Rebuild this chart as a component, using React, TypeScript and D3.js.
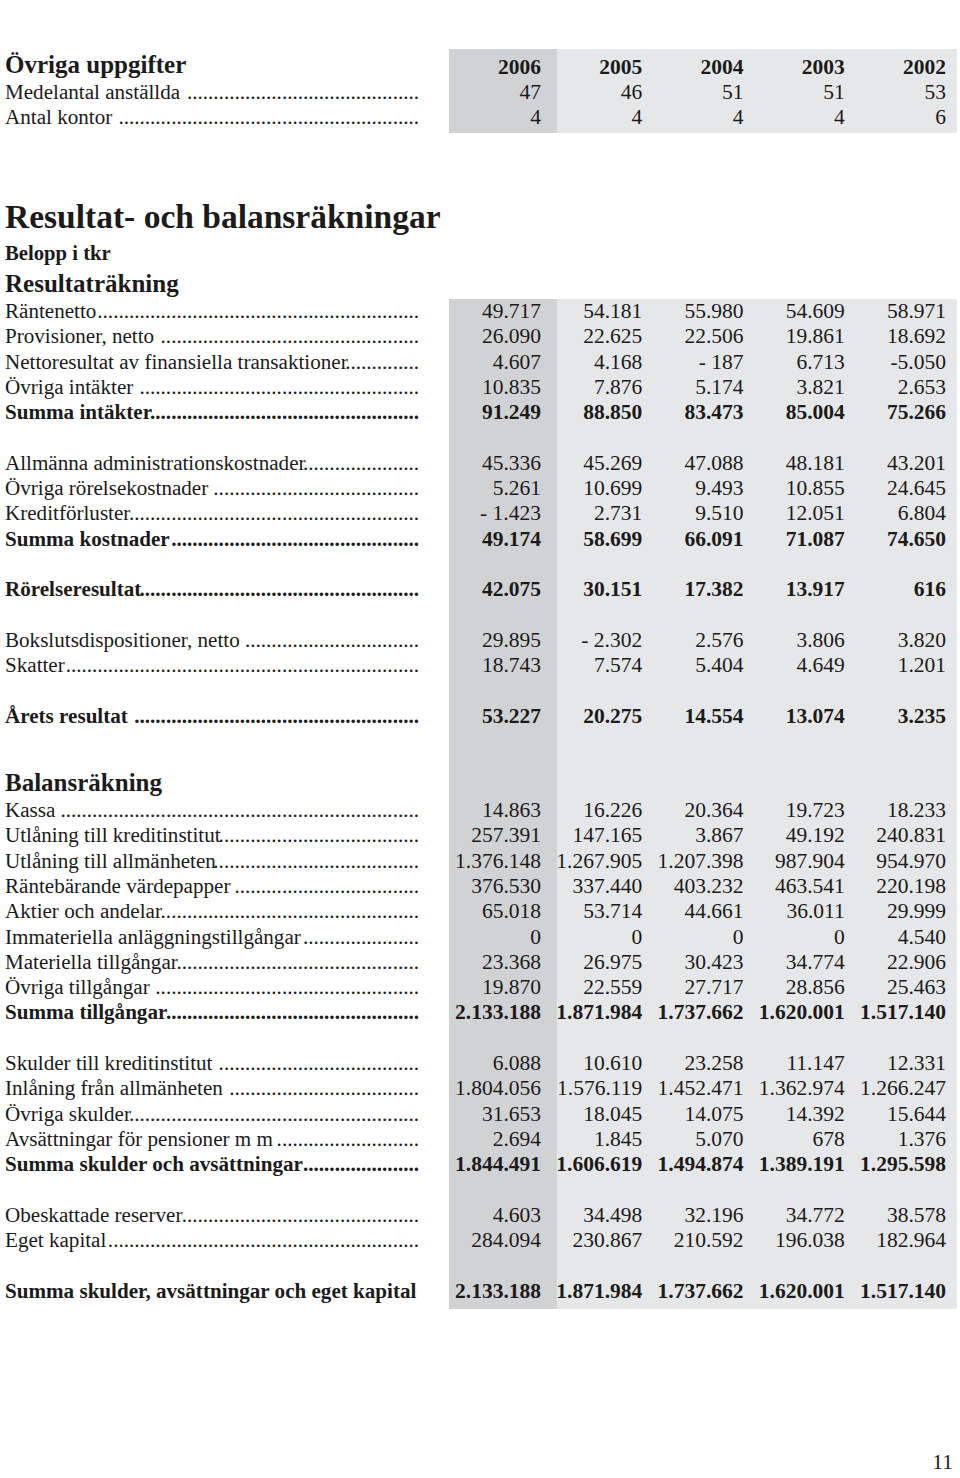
import React from 'react';
import * as d3 from 'd3';

// ---------- DATA ----------
const years = ['2006', '2005', '2004', '2003', '2002'];

const otherLabels = ['Medelantal anställda ', 'Antal kontor '];
const otherValues = [
  ['47', '46', '51', '51', '53'],
  ['4', '4', '4', '4', '6'],
];

type Row = { label: string; values: string[]; bold?: boolean; noDots?: boolean } | null;

const incomeRows: Row[] = [
  { label: 'Räntenetto', values: ['49.717', '54.181', '55.980', '54.609', '58.971'] },
  { label: 'Provisioner, netto ', values: ['26.090', '22.625', '22.506', '19.861', '18.692'] },
  { label: 'Nettoresultat av finansiella transaktioner', values: ['4.607', '4.168', '- 187', '6.713', '-5.050'] },
  { label: 'Övriga intäkter ', values: ['10.835', '7.876', '5.174', '3.821', '2.653'] },
  { label: 'Summa intäkter', values: ['91.249', '88.850', '83.473', '85.004', '75.266'], bold: true },
  null,
  { label: 'Allmänna administrationskostnader', values: ['45.336', '45.269', '47.088', '48.181', '43.201'] },
  { label: 'Övriga rörelsekostnader ', values: ['5.261', '10.699', '9.493', '10.855', '24.645'] },
  { label: 'Kreditförluster', values: ['- 1.423', '2.731', '9.510', '12.051', '6.804'] },
  { label: 'Summa kostnader', values: ['49.174', '58.699', '66.091', '71.087', '74.650'], bold: true },
  null,
  { label: 'Rörelseresultat', values: ['42.075', '30.151', '17.382', '13.917', '616'], bold: true },
  null,
  { label: 'Bokslutsdispositioner, netto ', values: ['29.895', '- 2.302', '2.576', '3.806', '3.820'] },
  { label: 'Skatter', values: ['18.743', '7.574', '5.404', '4.649', '1.201'] },
  null,
  { label: 'Årets resultat ', values: ['53.227', '20.275', '14.554', '13.074', '3.235'], bold: true },
];

const balanceRows: Row[] = [
  { label: 'Kassa ', values: ['14.863', '16.226', '20.364', '19.723', '18.233'] },
  { label: 'Utlåning till kreditinstitut', values: ['257.391', '147.165', '3.867', '49.192', '240.831'] },
  { label: 'Utlåning till allmänheten', values: ['1.376.148', '1.267.905', '1.207.398', '987.904', '954.970'] },
  { label: 'Räntebärande värdepapper ', values: ['376.530', '337.440', '403.232', '463.541', '220.198'] },
  { label: 'Aktier och andelar', values: ['65.018', '53.714', '44.661', '36.011', '29.999'] },
  { label: 'Immateriella anläggningstillgångar', values: ['0', '0', '0', '0', '4.540'] },
  { label: 'Materiella tillgångar', values: ['23.368', '26.975', '30.423', '34.774', '22.906'] },
  { label: 'Övriga tillgångar ', values: ['19.870', '22.559', '27.717', '28.856', '25.463'] },
  { label: 'Summa tillgångar', values: ['2.133.188', '1.871.984', '1.737.662', '1.620.001', '1.517.140'], bold: true },
  null,
  { label: 'Skulder till kreditinstitut ', values: ['6.088', '10.610', '23.258', '11.147', '12.331'] },
  { label: 'Inlåning från allmänheten ', values: ['1.804.056', '1.576.119', '1.452.471', '1.362.974', '1.266.247'] },
  { label: 'Övriga skulder', values: ['31.653', '18.045', '14.075', '14.392', '15.644'] },
  { label: 'Avsättningar för pensioner m m ', values: ['2.694', '1.845', '5.070', '678', '1.376'] },
  { label: 'Summa skulder och avsättningar', values: ['1.844.491', '1.606.619', '1.494.874', '1.389.191', '1.295.598'], bold: true },
  null,
  { label: 'Obeskattade reserver', values: ['4.603', '34.498', '32.196', '34.772', '38.578'] },
  { label: 'Eget kapital', values: ['284.094', '230.867', '210.592', '196.038', '182.964'] },
  null,
  { label: 'Summa skulder, avsättningar och eget kapital', values: ['2.133.188', '1.871.984', '1.737.662', '1.620.001', '1.517.140'], bold: true, noDots: true },
];

const titles = {
  other: 'Övriga uppgifter',
  main: 'Resultat- och balansräkningar',
  unit: 'Belopp i tkr',
  income: 'Resultaträkning',
  balance: 'Balansräkning',
  page: '11',
};

// ---------- LAYOUT ----------
const W = 960;
const H = 1478;
const FONT = "'Liberation Serif', 'Times New Roman', serif";
const SIZE = 21.5;
const LABEL_SIZE = 21.1;
const INK = '#1c1a1b';
const DARK = '#d1d2d4';
const LIGHT = '#e6e7e8';
const LABEL_X = 5;
const DOT_END = 419;

let ctx: CanvasRenderingContext2D | null = null;
function measure(text: string, bold: boolean, size = LABEL_SIZE) {
  if (!ctx) ctx = document.createElement('canvas').getContext('2d');
  if (!ctx) return text.length * size * 0.45;
  ctx.font = `${bold ? 'bold ' : ''}${size}px 'Liberation Serif'`;
  return ctx.measureText(text).width;
}

function dotsFor(label: string, bold: boolean) {
  const w = measure(label, bold);
  const dw = measure('.', bold);
  const n = Math.max(0, Math.round((DOT_END - LABEL_X - w) / dw));
  return '.'.repeat(n);
}

export default function App() {
  const x = d3.scaleLinear().domain([0, years.length - 1]).range([541, 946]);
  const yOther = d3.scaleLinear().domain([0, 1]).range([99, 124.3]);
  const yIncome = d3.scaleLinear().domain([0, 1]).range([318, 343.3]);
  const yBalance = d3.scaleLinear().domain([0, 1]).range([817, 842.3]);

  const renderRow = (r: Row, y: number, key: string) => {
    if (!r) return null;
    const fw = r.bold ? 'bold' : 'normal';
    return (
      <g key={key}>
        <text x={LABEL_X} y={y} fontWeight={fw} fontSize={LABEL_SIZE}>{r.label.trimEnd()}</text>
        {!r.noDots && (
          <text x={DOT_END} y={y} fontWeight={fw} fontSize={LABEL_SIZE} textAnchor="end">{dotsFor(r.label, !!r.bold)}</text>
        )}
        {r.values.map((v, i) => (
          <text key={i} x={x(i)} y={y} fontWeight={fw} textAnchor="end">{v}</text>
        ))}
      </g>
    );
  };

  return (
    <svg
      width={W}
      height={H}
      viewBox={`0 0 ${W} ${H}`}
      style={{ position: 'absolute', left: 0, top: 0, background: '#fff' }}
      fontFamily={FONT}
      fontSize={SIZE}
      fill={INK}
    >
      <rect x={0} y={0} width={W} height={H} fill="#fff" />
      {/* shaded blocks */}
      <rect x={449} y={49} width={508} height={84} fill={LIGHT} />
      <rect x={449} y={49} width={108} height={84} fill={DARK} />
      <rect x={449} y={299} width={508} height={1010} fill={LIGHT} />
      <rect x={449} y={299} width={108} height={1010} fill={DARK} />

      {/* Övriga uppgifter */}
      <text x={LABEL_X} y={73} fontWeight="bold" fontSize={25}>{titles.other}</text>
      {years.map((yr, i) => (
        <text key={yr} x={x(i)} y={yOther(-1)} fontWeight="bold" textAnchor="end">{yr}</text>
      ))}
      {otherLabels.map((l, j) =>
        renderRow({ label: l, values: otherValues[j] }, yOther(j), 'o' + j)
      )}

      {/* Headings */}
      <text x={LABEL_X} y={228} fontWeight="bold" fontSize={33.5}>{titles.main}</text>
      <text x={LABEL_X} y={260} fontWeight="bold" fontSize={20.7}>{titles.unit}</text>
      <text x={LABEL_X} y={292} fontWeight="bold" fontSize={25}>{titles.income}</text>

      {incomeRows.map((r, i) => renderRow(r, yIncome(i), 'i' + i))}

      <text x={LABEL_X} y={791} fontWeight="bold" fontSize={25}>{titles.balance}</text>

      {balanceRows.map((r, i) => renderRow(r, yBalance(i), 'b' + i))}

      <text x={953} y={1469} textAnchor="end">{titles.page}</text>
    </svg>
  );
}
